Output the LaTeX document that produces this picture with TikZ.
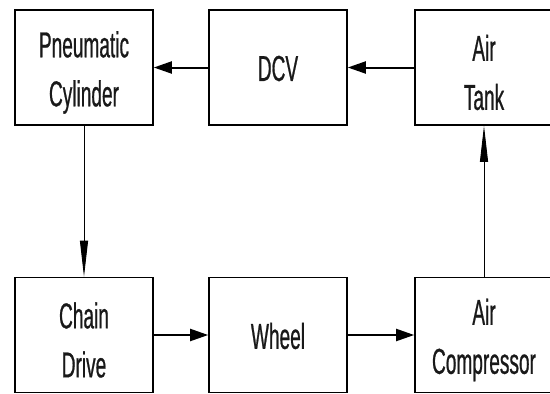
\documentclass[tikz,border=0pt]{standalone}
\usepackage{fontspec}
\setmainfont{Liberation Sans}[FakeStretch=0.53,FakeBold=0.6]
\usetikzlibrary{arrows.meta}
\tikzset{
  blockbox/.style={draw=black, line width=1.6pt, minimum width=138pt, minimum height=115pt,
    inner sep=0pt},
  blocktext/.style={align=center, font=\fontsize{36}{49}\selectfont, text=black!90, inner sep=0pt, yshift=-5pt},
  singletext/.style={blocktext, yshift=4pt},
  thickarrow/.style={line width=2pt, -{Triangle[length=18pt,width=12pt]}},
  thinarrow/.style={line width=0.9pt, -{Triangle[length=36pt,width=8pt]}}
}
\begin{document}
\begin{tikzpicture}[x=1pt,y=-1pt]
\useasboundingbox (0,0) rectangle (550,394);
\clip (0,0) rectangle (550,394);
\fill[white] (0,0) rectangle (550,394);
\node[blockbox, label={[blocktext]center:{Pneumatic\\Cylinder}}] (pneu) at (84,67.5) {};
\node[blockbox, label={[singletext]center:{DCV}}] (dcv) at (278,67.5) {};
\node[blockbox, label={[blocktext]center:{Air\\Tank}}] (tank) at (484,67.5) {};
\node[blockbox, label={[blocktext]center:{Chain\\Drive}}] (chain) at (84,335) {};
\node[blockbox, label={[singletext]center:{Wheel}}] (wheel) at (278,335) {};
\node[blockbox, label={[blocktext]center:{Air\\Compressor}}] (comp) at (484,335) {};
\draw[thickarrow] (dcv.west) -- (pneu.east);
\draw[thickarrow] (tank.west) -- (dcv.east);
\draw[thickarrow] (chain.east) -- (wheel.west);
\draw[thickarrow] (wheel.east) -- (comp.west);
\draw[thinarrow] (pneu.south) -- (chain.north);
\draw[thinarrow] (comp.north) -- (tank.south);
\end{tikzpicture}
\end{document}
